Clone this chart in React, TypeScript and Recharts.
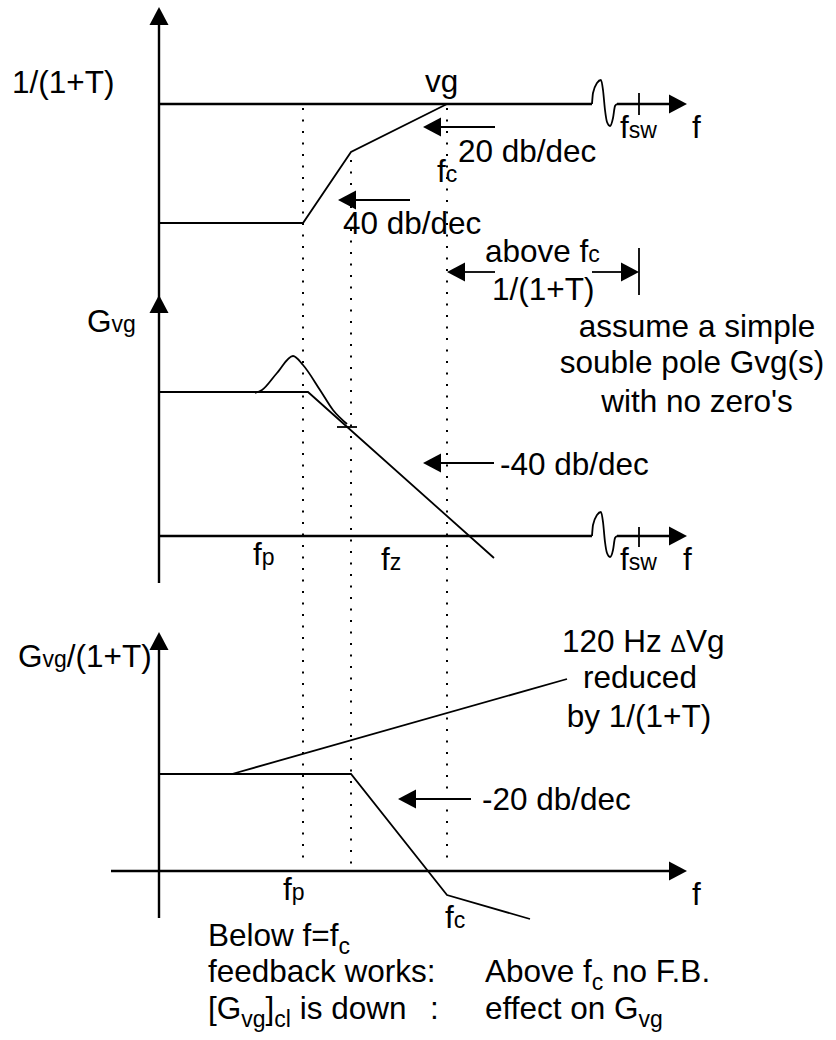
import { ComposedChart, Line, XAxis, YAxis, ReferenceDot } from 'recharts';

type P = { x: number; y: number };
type Part = [string, 'n' | 's' | 'sub'];
type Lbl = { x: number; y: number; parts: Part[]; anchor?: 'start' | 'middle' };
type Head = { x: number; y: number; dir: 'up' | 'left' | 'right' };

// diagram units: x = log frequency position, y = magnitude (screen down = lower)
const yAxis: P[] = [{ x: 159, y: 14 }, { x: 159, y: 583 }];
const yAxis3: P[] = [{ x: 159, y: 640 }, { x: 159, y: 918 }];

// 1/(1+T) panel
const unityLine: P[] = [{ x: 159, y: 104 }, { x: 592, y: 104 }];
const unityTail: P[] = [{ x: 617, y: 104 }, { x: 680, y: 104 }];
const unityBreak: P[] = [
  { x: 592, y: 104 }, { x: 593, y: 93 }, { x: 597, y: 83 }, { x: 601, y: 80 }, { x: 603, y: 90 },
  { x: 605, y: 110 }, { x: 607, y: 122 }, { x: 610, y: 126 }, { x: 613, y: 118 }, { x: 615, y: 106 }, { x: 617, y: 104 },
];
const invLoop: P[] = [{ x: 159, y: 223 }, { x: 303, y: 223 }, { x: 351, y: 152 }, { x: 447, y: 104 }];
const swTick1: P[] = [{ x: 639, y: 93 }, { x: 639, y: 115 }];

// Gvg panel
const gvgAsym: P[] = [{ x: 159, y: 392 }, { x: 308, y: 392 }, { x: 494, y: 558 }];
const gvgPeak: P[] = [
  { x: 255, y: 393 }, { x: 262, y: 390 }, { x: 277, y: 373 }, { x: 293, y: 356 }, { x: 303, y: 365 },
  { x: 320, y: 390 }, { x: 333, y: 410 }, { x: 347, y: 424 },
];
const zTick: P[] = [{ x: 337, y: 427 }, { x: 357, y: 427 }];
const axis2: P[] = [{ x: 159, y: 536 }, { x: 592, y: 536 }];
const axis2Tail: P[] = [{ x: 617, y: 536 }, { x: 680, y: 536 }];
const axis2Break: P[] = [
  { x: 592, y: 536 }, { x: 593, y: 525 }, { x: 597, y: 515 }, { x: 601, y: 512 }, { x: 603, y: 522 },
  { x: 605, y: 542 }, { x: 607, y: 553 }, { x: 610, y: 557 }, { x: 613, y: 550 }, { x: 615, y: 538 }, { x: 617, y: 536 },
];
const swTick2: P[] = [{ x: 639, y: 527 }, { x: 639, y: 547 }];

// Gvg/(1+T) panel
const axis3: P[] = [{ x: 111, y: 871 }, { x: 680, y: 871 }];
const closedLoop: P[] = [{ x: 159, y: 774 }, { x: 351, y: 774 }, { x: 447, y: 895 }, { x: 530, y: 919 }];
const rippleRamp: P[] = [{ x: 232, y: 774 }, { x: 567, y: 679 }];

// dotted frequency markers fp, fz, fc
const markFp: P[] = [{ x: 303, y: 108 }, { x: 303, y: 867 }];
const markFz: P[] = [{ x: 351, y: 160 }, { x: 351, y: 867 }];
const markFc: P[] = [{ x: 447, y: 108 }, { x: 447, y: 867 }];

// annotation arrows
const shafts: P[][] = [
  [{ x: 355, y: 200 }, { x: 410, y: 200 }],
  [{ x: 440, y: 127 }, { x: 495, y: 127 }],
  [{ x: 463, y: 272 }, { x: 495, y: 272 }],
  [{ x: 592, y: 272 }, { x: 622, y: 272 }],
  [{ x: 639, y: 248 }, { x: 639, y: 295 }],
  [{ x: 440, y: 463 }, { x: 494, y: 463 }],
  [{ x: 415, y: 799 }, { x: 471, y: 799 }],
];
const heads: Head[] = [
  { x: 159, y: 7, dir: 'up' }, { x: 159, y: 295, dir: 'up' }, { x: 159, y: 632, dir: 'up' },
  { x: 687, y: 104, dir: 'right' }, { x: 687, y: 536, dir: 'right' }, { x: 687, y: 871, dir: 'right' },
  { x: 338, y: 200, dir: 'left' }, { x: 423, y: 127, dir: 'left' }, { x: 447, y: 272, dir: 'left' },
  { x: 639, y: 272, dir: 'right' }, { x: 423, y: 463, dir: 'left' }, { x: 398, y: 799, dir: 'left' },
];

const labels: Lbl[] = [
  { x: 12, y: 93, parts: [['1/(1+T)', 'n']] },
  { x: 425, y: 92, parts: [['vg', 'n']] },
  { x: 620, y: 138, parts: [['f', 'n'], ['sw', 's']] },
  { x: 692, y: 138, parts: [['f', 'n']] },
  { x: 458, y: 162, parts: [['20 db/dec', 'n']] },
  { x: 437, y: 182, parts: [['f', 'n'], ['c', 's']] },
  { x: 343, y: 234, parts: [['40 db/dec', 'n']] },
  { x: 485, y: 262, parts: [['above f', 'n'], ['c', 's']] },
  { x: 492, y: 300, parts: [['1/(1+T)', 'n']] },
  { x: 697, y: 337, anchor: 'middle', parts: [['assume a simple', 'n']] },
  { x: 692, y: 373, anchor: 'middle', parts: [['souble pole Gvg(s)', 'n']] },
  { x: 697, y: 412, anchor: 'middle', parts: [["with no zero's", 'n']] },
  { x: 87, y: 332, parts: [['G', 'n'], ['vg', 's']] },
  { x: 500, y: 475, parts: [['-40 db/dec', 'n']] },
  { x: 253, y: 565, parts: [['f', 'n'], ['p', 's']] },
  { x: 381, y: 570, parts: [['f', 'n'], ['z', 's']] },
  { x: 620, y: 570, parts: [['f', 'n'], ['sw', 's']] },
  { x: 683, y: 570, parts: [['f', 'n']] },
  { x: 18, y: 667, parts: [['G', 'n'], ['vg', 's'], ['/(1+T)', 'n']] },
  { x: 562, y: 652, parts: [['120 Hz ', 'n'], ['Δ', 's'], ['Vg', 'n']] },
  { x: 640, y: 688, anchor: 'middle', parts: [['reduced', 'n']] },
  { x: 639, y: 727, anchor: 'middle', parts: [['by 1/(1+T)', 'n']] },
  { x: 482, y: 810, parts: [['-20 db/dec', 'n']] },
  { x: 283, y: 900, parts: [['f', 'n'], ['p', 's']] },
  { x: 692, y: 905, parts: [['f', 'n']] },
  { x: 445, y: 928, parts: [['f', 'n'], ['c', 's']] },
  { x: 208, y: 946, parts: [['Below f=f', 'n'], ['c', 'sub']] },
  { x: 208, y: 982, parts: [['feedback works:', 'n']] },
  { x: 208, y: 1019, parts: [['[G', 'n'], ['vg', 'sub'], [']', 'n'], ['cl', 'sub'], [' is down', 'n']] },
  { x: 430, y: 1019, parts: [[':', 'n']] },
  { x: 485, y: 982, parts: [['Above f', 'n'], ['c', 'sub'], [' no F.B.', 'n']] },
  { x: 485, y: 1019, parts: [['effect on G', 'n'], ['vg', 'sub']] },
];

const FONT = '"Liberation Sans", Arial, sans-serif';
const BIG = 31.5;
const SMALL = 23;

const TextMark = (props: any) => {
  const { cx, cy, item } = props;
  let shift = 0;
  return (
    <text x={cx} y={cy} textAnchor={item.anchor || 'start'} fontFamily={FONT} fontSize={BIG} fill="#000" style={{ whiteSpace: 'pre' }}>
      {item.parts.map(([s, k]: Part, i: number) => {
        const target = k === 'sub' ? 8 : 0;
        const dy = target - shift;
        shift = target;
        return (
          <tspan key={i} dy={dy} fontSize={k === 'n' ? BIG : SMALL}>{s}</tspan>
        );
      })}
    </text>
  );
};

const HeadMark = (props: any) => {
  const { cx, cy, dir } = props;
  const L = 18, W = 9.5;
  let pts = '';
  if (dir === 'up') pts = `${cx},${cy} ${cx - W},${cy + L} ${cx + W},${cy + L}`;
  if (dir === 'left') pts = `${cx},${cy} ${cx + L},${cy - W} ${cx + L},${cy + W}`;
  if (dir === 'right') pts = `${cx},${cy} ${cx - L},${cy - W} ${cx - L},${cy + W}`;
  return <polygon points={pts} fill="#000" />;
};

const seg = (d: P[], key: string, w = 1.8, extra: any = {}) => (
  <Line key={key} data={d} dataKey="y" type="linear" stroke="#000" strokeWidth={w} dot={false} activeDot={false} isAnimationActive={false} {...extra} />
);

export default function App() {
  return (
    <div style={{ position: 'absolute', left: 0, top: 0, background: '#fff' }}>
      <ComposedChart width={836} height={1040} margin={{ top: 0, right: 0, bottom: 0, left: 0 }}>
        <XAxis type="number" dataKey="x" domain={[0, 836]} hide allowDataOverflow />
        <YAxis type="number" domain={[0, 1040]} reversed hide allowDataOverflow />
        {seg(markFp, 'fp', 2, { strokeDasharray: '2 9.5' })}
        {seg(markFz, 'fz', 2, { strokeDasharray: '2 9.5' })}
        {seg(markFc, 'fc', 2, { strokeDasharray: '2 9.5' })}
        {seg(yAxis, 'ya', 2.4)}
        {seg(yAxis3, 'ya3', 2.4)}
        {seg(unityLine, 'u1', 2.4)}
        {seg(unityTail, 'u2', 2.4)}
        {seg(unityBreak, 'u3', 1.8, { type: 'monotoneX' })}
        {seg(invLoop, 'inv', 1.8)}
        {seg(swTick1, 'sw1', 1.8)}
        {seg(gvgAsym, 'ga', 1.8)}
        {seg(gvgPeak, 'gp', 1.8, { type: 'monotoneX' })}
        {seg(zTick, 'zt', 1.8)}
        {seg(axis2, 'a2', 2.4)}
        {seg(axis2Tail, 'a2t', 2.4)}
        {seg(axis2Break, 'a2b', 1.8, { type: 'monotoneX' })}
        {seg(swTick2, 'sw2', 1.8)}
        {seg(axis3, 'a3', 2.4)}
        {seg(closedLoop, 'cl', 1.8)}
        {seg(rippleRamp, 'rr', 1.8)}
        {shafts.map((s, i) => seg(s, 'sh' + i, 1.8))}
        {heads.map((h, i) => (
          <ReferenceDot key={'h' + i} x={h.x} y={h.y} r={0} ifOverflow="visible" shape={(p: any) => <HeadMark {...p} dir={h.dir} />} />
        ))}
        {labels.map((t, i) => (
          <ReferenceDot key={'t' + i} x={t.x} y={t.y} r={0} ifOverflow="visible" shape={(p: any) => <TextMark {...p} item={t} />} />
        ))}
      </ComposedChart>
    </div>
  );
}
